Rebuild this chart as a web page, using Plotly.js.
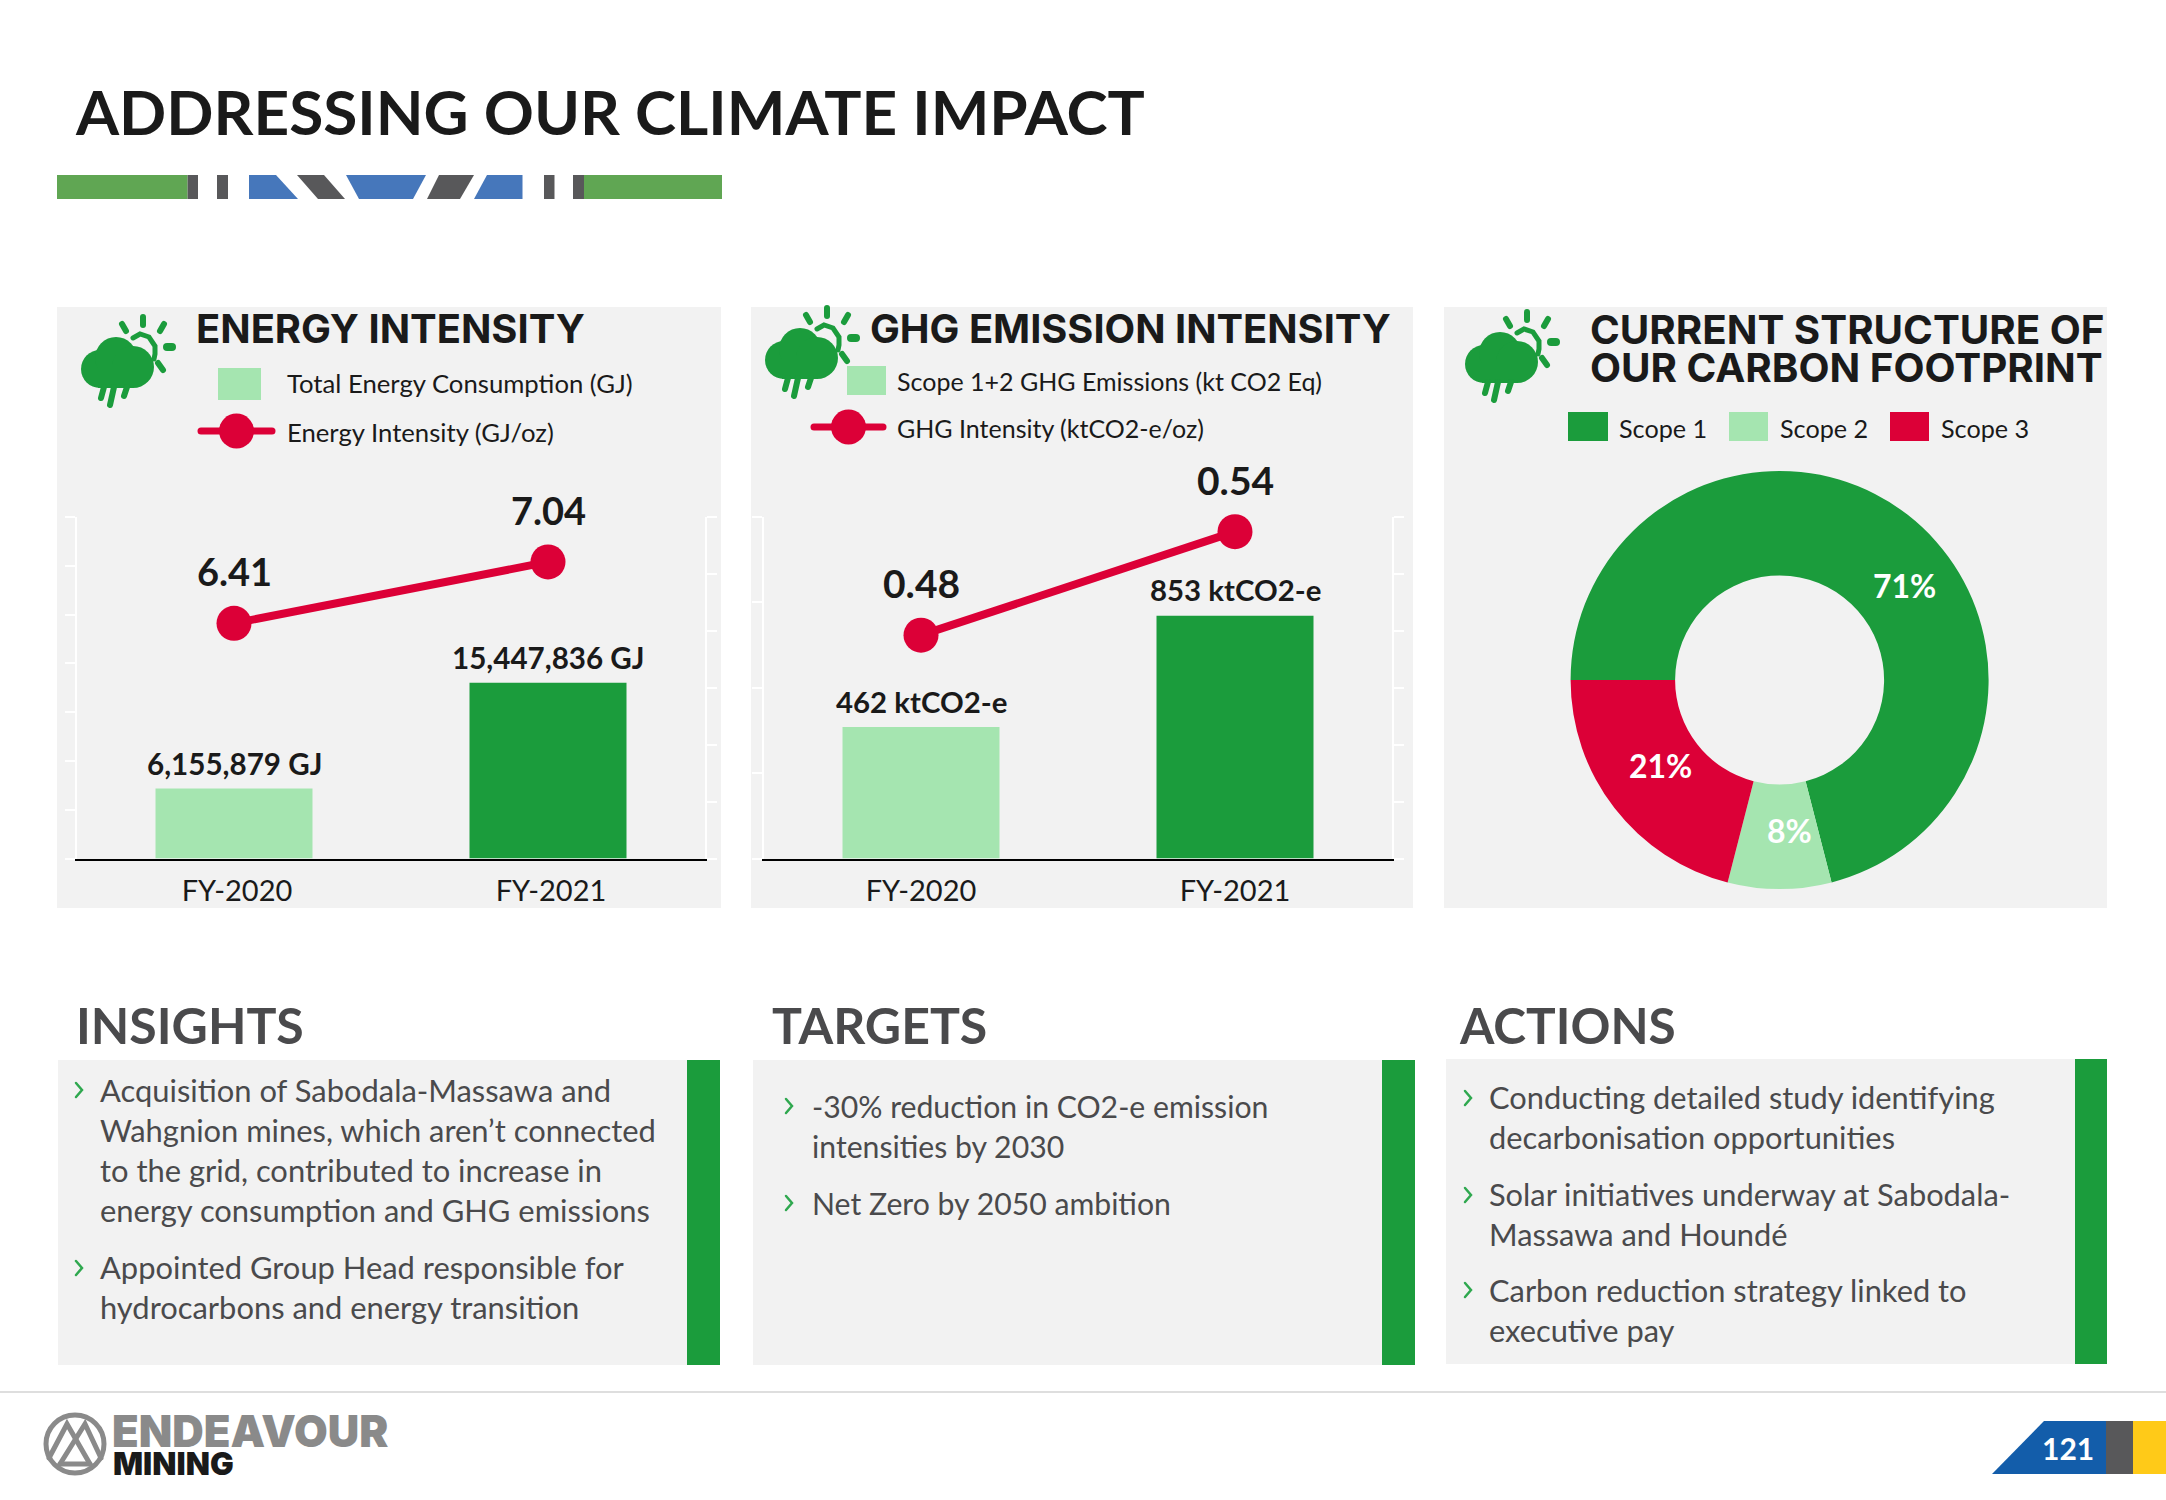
<!DOCTYPE html>
<html><head><meta charset="utf-8">
<script src="https://cdn.plot.ly/plotly-3.0.1.min.js"></script>
<style>html,body{margin:0;padding:0;background:#fff}#c{width:2166px;height:1500px}</style>
</head><body><div id="c"></div>
<script>
// ---------- data ----------
const categories = ['FY-2020', 'FY-2021'];
const energyGJ = [6155879, 15447836];
const energyLabels = ['6,155,879 GJ', '15,447,836 GJ'];
const energyIntensity = [6.41, 7.04];
const ghgKt = [462, 853];
const ghgLabels = ['462 ktCO2-e', '853 ktCO2-e'];
const ghgIntensity = [0.48, 0.54];
const scopeLabels = ['Scope 1', 'Scope 2', 'Scope 3'];
const scopeValues = [71, 8, 21];
const insightLines = ['Acquisition of Sabodala-Massawa and', 'Wahgnion mines, which aren’t connected', 'to the grid, contributed to increase in', 'energy consumption and GHG emissions', 'Appointed Group Head responsible for', 'hydrocarbons and energy transition'];
const targetLines = ['-30% reduction in CO2-e emission', 'intensities by 2030', 'Net Zero by 2050 ambition'];
const actionLines = ['Conducting detailed study identifying', 'decarbonisation opportunities', 'Solar initiatives underway at Sabodala-', 'Massawa and Houndé', 'Carbon reduction strategy linked to', 'executive pay'];

// ---------- palette / fonts ----------
const W = 2166, H = 1500;
const GREEN = '#1B9C3C', LIGHT = '#A5E5B0', RED = '#DC0037', PANEL = '#F2F2F2', INK = '#1A1A1A', GREY = '#4A4A4C', DARK = '#58585A', BLUE = '#4677BB', BAND = '#60A653';
const BODY = 'Lato', HEAD = 'Inter';
const px = x => x / W, py = y => 1 - y / H;

// ---------- helpers working in page pixels ----------
const shapes = [], annotations = [];
function rect(x0, y0, x1, y1, color) {
  shapes.push({type: 'rect', xref: 'paper', yref: 'paper', x0: px(x0), x1: px(x1), y0: py(y0), y1: py(y1), fillcolor: color, line: {width: 0}, layer: 'below'});
}
function poly(points, color) {
  const d = points.map((p, i) => (i ? 'L' : 'M') + px(p[0]) + ' ' + py(p[1])).join(' ') + ' Z';
  shapes.push({type: 'path', xref: 'paper', yref: 'paper', path: d, fillcolor: color, line: {width: 0}, layer: 'below'});
}
function stroke(points, color, width, layer) {
  const d = points.map((p, i) => (i ? 'L' : 'M') + px(p[0]) + ' ' + py(p[1])).join(' ');
  shapes.push({type: 'path', xref: 'paper', yref: 'paper', path: d, line: {color: color, width: width}, layer: layer || 'below'});
}
function disc(cx, cy, r, color, layer) {
  shapes.push({type: 'circle', xref: 'paper', yref: 'paper', x0: px(cx - r), x1: px(cx + r), y0: py(cy + r), y1: py(cy - r), fillcolor: color, line: {width: 0}, layer: layer || 'below'});
}
function ring(cx, cy, r, color, width) {
  shapes.push({type: 'circle', xref: 'paper', yref: 'paper', x0: px(cx - r), x1: px(cx + r), y0: py(cy + r), y1: py(cy - r), fillcolor: 'rgba(0,0,0,0)', line: {color: color, width: width}, layer: 'below'});
}
function text(str, x, y, size, color, opts) {
  opts = opts || {};
  annotations.push({text: str, xref: 'paper', yref: 'paper', x: px(x), y: py(y), showarrow: false,
    xanchor: opts.anchor || 'left', yanchor: 'middle', borderpad: 0,
    font: {family: opts.family || BODY, size: size, color: color, weight: opts.weight || 400}});
}
function dataLabel(str, x, y, xref, yref, shift, size) {
  annotations.push({text: str, x: x, y: y, xref: xref, yref: yref, yshift: shift, showarrow: false,
    xanchor: 'center', yanchor: 'middle', borderpad: 0, font: {family: BODY, size: size, color: INK, weight: 700}});
}
function icon(dx, dy) {
  const c = GREEN;
  disc(dx + 100, dy + 369, 19, c); disc(dx + 116, dy + 358, 21, c); disc(dx + 133, dy + 367, 21, c);
  rect(dx + 98, dy + 365, dx + 134, dy + 388, c);
  stroke([[dx + 104, dy + 387], [dx + 101, dy + 398]], c, 6);
  stroke([[dx + 114, dy + 387], [dx + 110, dy + 405]], c, 6);
  stroke([[dx + 127, dy + 387], [dx + 124, dy + 396]], c, 6);
  stroke([[dx + 133, dy + 338], [dx + 140, dy + 334], [dx + 149, dy + 337], [dx + 155, dy + 346], [dx + 155, dy + 354], [dx + 154, dy + 359]], c, 5);
  stroke([[dx + 143, dy + 317], [dx + 143, dy + 325]], c, 6);
  stroke([[dx + 122, dy + 324], [dx + 126, dy + 331]], c, 6);
  stroke([[dx + 164, dy + 324], [dx + 160, dy + 331]], c, 6);
  stroke([[dx + 167, dy + 347], [dx + 172, dy + 347]], c, 8);
  stroke([[dx + 158, dy + 363], [dx + 163, dy + 370]], c, 6);
}
function legendLine(x0, x1, cx, y) {
  stroke([[x0 + 3, y], [x1 - 3, y]], RED, 7);
  disc(cx, y, 17.5, RED);
}
function chevron(x, y) { stroke([[x, y - 7], [x + 6, y], [x, y + 7]], '#2FA84F', 2.5); }

// ---------- page furniture ----------
rect(57, 175, 187.6, 199, BAND);
rect(187.6, 175, 198, 199, DARK);
rect(217, 175, 228, 199, DARK);
poly([[249, 175], [276, 175], [298, 199], [249, 199]], BLUE);
poly([[297, 175], [324, 175], [345, 199], [318, 199]], DARK);
poly([[346, 175], [426, 175], [413, 199], [359, 199]], BLUE);
poly([[439, 175], [474, 175], [460, 199], [427, 199]], DARK);
poly([[487, 175], [522.5, 175], [522.5, 199], [474, 199]], BLUE);
rect(544, 175, 554.5, 199, DARK);
rect(573, 175, 584, 199, DARK);
rect(584, 175, 722, 199, BAND);
text('ADDRESSING OUR CLIMATE IMPACT', 74, 111, 62.1, INK, {weight: 700});

rect(57, 307, 721, 908, PANEL);
rect(751, 307, 1413, 908, PANEL);
rect(1444, 307, 2107, 908, PANEL);

icon(0, 0); icon(684, -9); icon(1384, -5);

text('ENERGY INTENSITY', 195, 328, 39.9, INK, {family: HEAD, weight: 700});
rect(218, 368, 261, 400, LIGHT);
text('Total Energy Consumption (GJ)', 286, 383, 25.7, INK);
legendLine(198, 275, 236.5, 431);
text('Energy Intensity (GJ/oz)', 286, 432, 25.7, INK);

text('GHG EMISSION INTENSITY', 869, 328, 39.8, INK, {family: HEAD, weight: 700});
rect(847, 366, 886, 395, LIGHT);
text('Scope 1+2 GHG Emissions (kt CO2 Eq)', 896, 381, 25, INK);
legendLine(811, 886, 848.5, 427);
text('GHG Intensity (ktCO2-e/oz)', 896, 428, 25, INK);

text('CURRENT STRUCTURE OF', 1589, 329, 40.3, INK, {family: HEAD, weight: 700});
text('OUR CARBON FOOTPRINT', 1589, 368, 40.3, INK, {family: HEAD, weight: 700});
[[1568, 1608, 1618, GREEN], [1729, 1768, 1779, LIGHT], [1890, 1929, 1940, RED]].forEach((s, i) => {
  rect(s[0], 412, s[1], 441, s[3]);
  text(scopeLabels[i], s[2], 428, 25.2, INK);
});

// lower panels
rect(58, 1060, 720, 1365, PANEL); rect(687, 1060, 720, 1365, GREEN);
rect(753, 1060, 1415, 1365, PANEL); rect(1382, 1060, 1415, 1365, GREEN);
rect(1446, 1059, 2107, 1364, PANEL); rect(2075, 1059, 2107, 1364, GREEN);
text('INSIGHTS', 75, 1025, 50, GREY, {weight: 700});
text('TARGETS', 771, 1025, 50, GREY, {weight: 700});
text('ACTIONS', 1458, 1025, 49.5, GREY, {weight: 700});
[1090, 1130, 1170, 1210, 1267, 1307].forEach((y, i) => text(insightLines[i], 99, y, 30.9, GREY));
[1105.5, 1145.5, 1203].forEach((y, i) => text(targetLines[i], 811, y, 30.2, GREY));
[1097, 1137, 1194, 1234, 1290, 1330].forEach((y, i) => text(actionLines[i], 1488, y, 30.8, GREY));
[[76, 1090], [76, 1268], [786, 1106], [786, 1203], [1465, 1098], [1465, 1195], [1465, 1290]].forEach(c => chevron(c[0], c[1]));

// footer
rect(0, 1391, W, 1393, '#DEDEDE');
ring(75, 1444, 29, '#8A8A8A', 5);
stroke([[49, 1458], [67, 1424], [90, 1464]], '#8A8A8A', 5);
stroke([[101, 1458], [85, 1424], [60, 1464]], '#8A8A8A', 5);
stroke([[60, 1464], [90, 1464]], '#8A8A8A', 5);
text('ENDEAVOUR', 111, 1431, 43.6, '#8A8A8A', {family: 'Inter', weight: 900});
text('MINING', 112, 1463, 31.5, INK, {family: 'Inter', weight: 900});
poly([[1992, 1474], [2044, 1421], [2106, 1421], [2106, 1474]], '#135DAA');
rect(2106, 1421, 2133, 1474, DARK);
rect(2133, 1421, W, 1474, '#FFCA18');
text('121', 2068, 1448, 30, '#FFFFFF', {anchor: 'center', weight: 700});

// ---------- charts ----------
const traces = [
  {type: 'bar', x: categories, y: energyGJ, xaxis: 'x', yaxis: 'y', marker: {color: [LIGHT, GREEN]}, width: 0.5},
  {type: 'scatter', mode: 'lines+markers', x: categories, y: energyIntensity, xaxis: 'x', yaxis: 'y2', line: {color: RED, width: 8}, marker: {color: RED, size: 35}, cliponaxis: false},
  {type: 'bar', x: categories, y: ghgKt, xaxis: 'x2', yaxis: 'y3', marker: {color: [LIGHT, GREEN]}, width: 0.5},
  {type: 'scatter', mode: 'lines+markers', x: categories, y: ghgIntensity, xaxis: 'x2', yaxis: 'y4', line: {color: RED, width: 8}, marker: {color: RED, size: 35}, cliponaxis: false},
  {type: 'pie', labels: scopeLabels, values: scopeValues, hole: 0.5, sort: false, direction: 'clockwise', rotation: 270,
   marker: {colors: [GREEN, LIGHT, RED], line: {width: 0}}, textinfo: 'none',
   domain: {x: [px(1570.6), px(1988.6)], y: [py(889), py(471)]}}
];
energyGJ.forEach((v, i) => dataLabel(energyLabels[i], categories[i], v, 'x', 'y', 25, 29.6));
energyIntensity.forEach((v, i) => dataLabel(v.toFixed(2), categories[i], v, 'x', 'y2', 52, 38));
ghgKt.forEach((v, i) => dataLabel(ghgLabels[i], categories[i], v, 'x2', 'y3', 26, 29.4));
ghgIntensity.forEach((v, i) => dataLabel(v.toFixed(2), categories[i], v, 'x2', 'y4', 52, 39));
[[1904.6, 585], [1789, 830.6], [1660, 765]].forEach((p, i) => text(scopeValues[i] + '%', p[0], p[1], 32, '#FFFFFF', {anchor: 'center', weight: 700}));

const yDomain = [py(858.5), py(517)];
function xAxis(x0, x1, shift, anchor) {
  return {domain: [px(x0), px(x1)], anchor: anchor, type: 'category', range: [-0.5, 1.5], showgrid: false, zeroline: false,
    showline: true, linecolor: '#000', linewidth: 2, ticks: '', tickfont: {family: BODY, size: 29, color: INK}, ticklabelshift: shift, ticklabelstandoff: 6};
}
function yAxis(range, dtick, side, anchor, overlay) {
  const a = {domain: yDomain, anchor: anchor, range: range, dtick: dtick, tick0: range[0], side: side, showgrid: false, zeroline: false,
    showline: true, linecolor: '#FFFFFF', linewidth: 2, ticks: 'outside', tickcolor: '#FFFFFF', ticklen: 10, tickwidth: 2, showticklabels: false};
  if (overlay) a.overlaying = overlay;
  return a;
}
const layout = {
  width: W, height: H, margin: {l: 0, r: 0, t: 0, b: 0}, paper_bgcolor: '#FFFFFF', plot_bgcolor: 'rgba(0,0,0,0)',
  showlegend: false, hovermode: false, bargap: 0.5,
  xaxis: xAxis(77, 705, 3, 'y'),
  yaxis: yAxis([0, 30000000], 30000000 / 7, 'left', 'x'),
  yaxis2: yAxis([4, 7.5], 3.5 / 6, 'right', 'x', 'y'),
  xaxis2: xAxis(764, 1392, 0, 'y3'),
  yaxis3: yAxis([0, 1200], 300, 'left', 'x2'),
  yaxis4: yAxis([0.3505, 0.5485], 0.198 / 6, 'right', 'x2', 'y3'),
  shapes: shapes, annotations: annotations
};
Plotly.newPlot('c', traces, layout, {staticPlot: true, displayModeBar: false}).then(() => {
  document.querySelectorAll('.shapelayer path').forEach(p => p.style.strokeLinecap = 'round');
});
</script></body></html>
